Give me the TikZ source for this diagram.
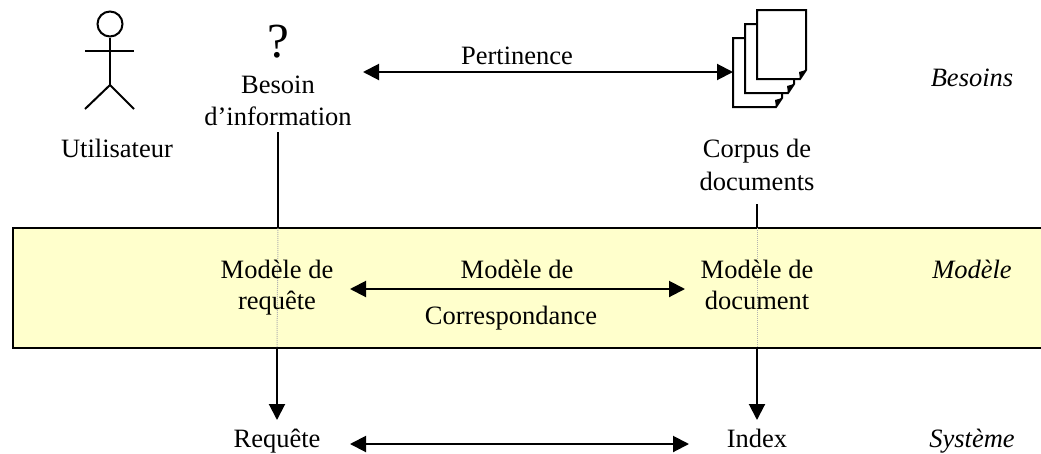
\documentclass[tikz,border=0pt]{standalone}
\usepackage{fontspec}
\setmainfont{Liberation Serif}
\usetikzlibrary{arrows.meta}
\definecolor{bandfill}{HTML}{FFFFCC}
\tikzset{
  lab/.style={inner sep=0pt,outer sep=0pt,font=\fontsize{26.5}{26.5}\selectfont,anchor=base},
  ilab/.style={lab,font=\fontsize{26.5}{26.5}\selectfont\itshape},
  ink/.style={line width=2pt,black},
  arr/.style={ink,-{Triangle[length=16pt,width=16pt]}},
  darr/.style={ink,{Triangle[length=16pt,width=16pt]}-{Triangle[length=16pt,width=16pt]}},
  page/.style={ink,fill=white,line join=miter},
  fold/.style={fill=black,draw=none},
  seam/.style={line width=1pt,draw=black!30,densely dotted}
}
\begin{document}
\begin{tikzpicture}[x=1pt,y=-1pt]
\useasboundingbox (0,0) rectangle (1041,453);
% band
\fill[bandfill] (13,228) rectangle (1041,348);
\draw[ink] (1041,228) -- (13,228) -- (13,348) -- (1041,348);
\coordinate (bandTopL) at (278,228);
\coordinate (bandBotL) at (277,348);
\coordinate (bandTopR) at (757,228);
\coordinate (bandBotR) at (757,348);
\draw[seam] (bandTopL) -- (bandBotL);
\draw[seam] (bandTopR) -- (bandBotR);
% actor
\node[circle,ink,draw,minimum size=25pt,inner sep=0pt] (head) at (110,24) {};
\coordinate (hip) at (110,85);
\coordinate (armL) at (85,51);
\coordinate (armR) at (134,51);
\coordinate (legL) at (85,109);
\coordinate (legR) at (134,109);
\draw[ink] (head.south) -- (hip);
\draw[ink] (armL) -- (armR);
\draw[ink] (legL) -- (hip) -- (legR);
% documents
\draw[page] (733,38) -- (782,38) -- (782,98) -- (776,107) -- (733,107) -- cycle;
\fill[fold] (782,98) -- (776,107) -- (775,100) -- cycle;
\draw[page] (745,24) -- (794,24) -- (794,84) -- (788,93) -- (745,93) -- cycle;
\fill[fold] (794,84) -- (788,93) -- (787,86) -- cycle;
\draw[page] (757,10) -- (806,10) -- (806,70) -- (800,79) -- (757,79) -- cycle;
\fill[fold] (806,70) -- (800,79) -- (799,72) -- cycle;
% texts
\node[lab] (util) at (117,157) {Utilisateur};
\node[lab,font=\fontsize{49}{49}\selectfont] (quest) at (278,57) {?};
\node[lab] (bes) at (278,93) {Besoin};
\node[lab] (info) at (278,125) {d’information};
\node[lab] (pert) at (517,64) {Pertinence};
\node[lab] (corp) at (757,157) {Corpus de};
\node[lab] (docs) at (757,190) {documents};
\node[ilab] (tb) at (972,86) {Besoins};
\node[lab] (mr1) at (277,278) {Modèle de};
\node[lab] (mr2) at (277,309) {requête};
\node[lab] (mc1) at (517,278) {Modèle de};
\node[lab] (mc2) at (511,324) {Correspondance};
\node[lab] (md1) at (757,278) {Modèle de};
\node[lab] (md2) at (757,309) {document};
\node[ilab] (tm) at (972,278) {Modèle};
\node[lab] (req) at (277,447) {Requête};
\node[lab] (idx) at (757,447) {Index};
\node[ilab] (ts) at (972,447) {Système};
% connectors
\coordinate (infoBot) at (278,132);
\coordinate (docsBot) at (757,204);
\coordinate (reqTop) at (277,420);
\coordinate (idxTop) at (757,420);
\coordinate (pL) at (363,72);
\coordinate (pR) at (733,72);
\coordinate (mL) at (350,289);
\coordinate (mR) at (685,289);
\coordinate (sL) at (350,444);
\coordinate (sR) at (689,444);
\draw[ink] (infoBot) -- (bandTopL);
\draw[ink] (docsBot) -- (bandTopR);
\draw[arr] (bandBotL) -- (reqTop);
\draw[arr] (bandBotR) -- (idxTop);
\draw[darr] (pL) -- (pR);
\draw[darr] (mL) -- (mR);
\draw[darr] (sL) -- (sR);
\end{tikzpicture}
\end{document}
